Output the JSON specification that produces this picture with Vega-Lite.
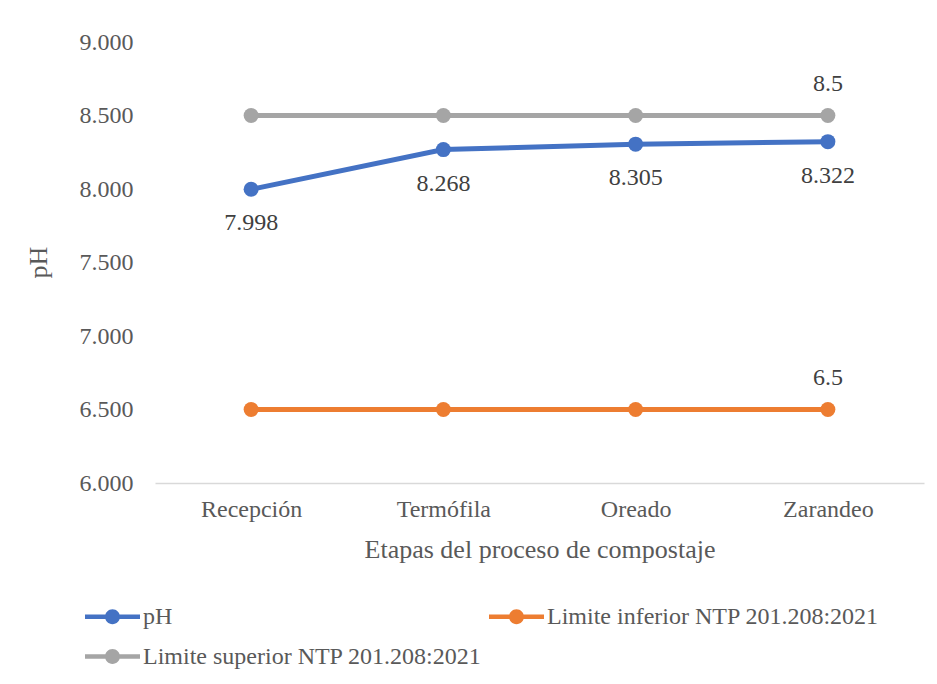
{
  "$schema": "https://vega.github.io/schema/vega-lite/v6.json",
  "width": 769,
  "height": 441,
  "autosize": {"type": "none"},
  "padding": {"left": 155, "top": 42, "right": 13, "bottom": 201},
  "background": "white",
  "config": {
    "view": {"stroke": null},
    "font": "Liberation Serif",
    "text": {"font": "Liberation Serif"}
  },
  "data": {
    "values": [
      {"etapa": "Recepción", "serie": "pH", "valor": 7.998},
      {"etapa": "Termófila", "serie": "pH", "valor": 8.268},
      {"etapa": "Oreado", "serie": "pH", "valor": 8.305},
      {"etapa": "Zarandeo", "serie": "pH", "valor": 8.322},
      {"etapa": "Recepción", "serie": "Limite inferior NTP 201.208:2021", "valor": 6.5},
      {"etapa": "Termófila", "serie": "Limite inferior NTP 201.208:2021", "valor": 6.5},
      {"etapa": "Oreado", "serie": "Limite inferior NTP 201.208:2021", "valor": 6.5},
      {"etapa": "Zarandeo", "serie": "Limite inferior NTP 201.208:2021", "valor": 6.5},
      {"etapa": "Recepción", "serie": "Limite superior NTP 201.208:2021", "valor": 8.5},
      {"etapa": "Termófila", "serie": "Limite superior NTP 201.208:2021", "valor": 8.5},
      {"etapa": "Oreado", "serie": "Limite superior NTP 201.208:2021", "valor": 8.5},
      {"etapa": "Zarandeo", "serie": "Limite superior NTP 201.208:2021", "valor": 8.5}
    ]
  },
  "encoding": {
    "x": {
      "field": "etapa",
      "type": "nominal",
      "sort": ["Recepción", "Termófila", "Oreado", "Zarandeo"],
      "axis": {
        "title": "Etapas del proceso de compostaje",
        "labelAngle": 0,
        "labelFont": "Liberation Serif",
        "labelFontSize": 24,
        "labelColor": "#595959",
        "labelPadding": 14,
        "ticks": false,
        "domainColor": "#D9D9D9",
        "domainWidth": 1.3,
        "grid": false,
        "titleFont": "Liberation Serif",
        "titleFontSize": 26,
        "titleFontWeight": "normal",
        "titleColor": "#595959",
        "titleBaseline": "middle",
        "titleY": 66
      }
    },
    "y": {
      "field": "valor",
      "type": "quantitative",
      "scale": {"domain": [6, 9], "nice": false, "zero": false},
      "axis": {
        "title": "pH",
        "values": [6, 6.5, 7, 7.5, 8, 8.5, 9],
        "format": ".3f",
        "labelFont": "Liberation Serif",
        "labelFontSize": 24,
        "labelColor": "#595959",
        "labelPadding": 22,
        "ticks": false,
        "domain": false,
        "grid": false,
        "titleFont": "Liberation Serif",
        "titleFontSize": 26,
        "titleFontWeight": "normal",
        "titleColor": "#595959",
        "titleBaseline": "middle",
        "titleX": -117,
        "titleY": 220
      }
    }
  },
  "layer": [
    {
      "mark": {"type": "line", "strokeWidth": 5, "strokeCap": "round"},
      "encoding": {
        "color": {
          "field": "serie",
          "type": "nominal",
          "scale": {
            "domain": ["pH", "Limite inferior NTP 201.208:2021", "Limite superior NTP 201.208:2021"],
            "range": ["#4472C4", "#ED7D31", "#A5A5A5"]
          },
          "legend": {
            "title": null,
            "orient": "none",
            "direction": "horizontal",
            "legendX": -70,
            "legendY": 547,
            "columns": 2,
            "columnPadding": 7,
            "rowPadding": -12,
            "labelFont": "Liberation Serif",
            "labelFontSize": 24,
            "labelColor": "#595959",
            "labelOffset": 3,
            "labelLimit": 500,
            "symbolType": "M-1,-0.085 L-0.25,-0.085 L-0.25,0.085 L-1,0.085 Z M0.25,-0.085 L1,-0.085 L1,0.085 L0.25,0.085 Z M0.27,0 A0.27,0.27 0 1 1 -0.27,0 A0.27,0.27 0 1 1 0.27,0 Z",
            "symbolSize": 3025,
            "symbolStrokeWidth": 0,
            "encode": {
              "symbols": {"update": {"fill": {"scale": "color", "field": "value"}, "strokeWidth": {"value": 0}}}
            }
          }
        }
      }
    },
    {
      "mark": {"type": "point", "filled": true, "shape": "circle", "size": 225, "opacity": 1},
      "encoding": {
        "color": {"field": "serie", "type": "nominal"}
      }
    },
    {
      "transform": [{"filter": "datum.serie == 'pH'"}],
      "mark": {"type": "text", "dy": 34, "fontSize": 24, "color": "#404040", "font": "Liberation Serif"},
      "encoding": {
        "text": {"field": "valor", "type": "quantitative", "format": ".3f"}
      }
    },
    {
      "transform": [{"filter": "datum.serie != 'pH' && datum.etapa == 'Zarandeo'"}],
      "mark": {"type": "text", "dy": -32, "fontSize": 24, "color": "#404040", "font": "Liberation Serif"},
      "encoding": {
        "text": {"field": "valor", "type": "quantitative", "format": ".1f"}
      }
    }
  ]
}
